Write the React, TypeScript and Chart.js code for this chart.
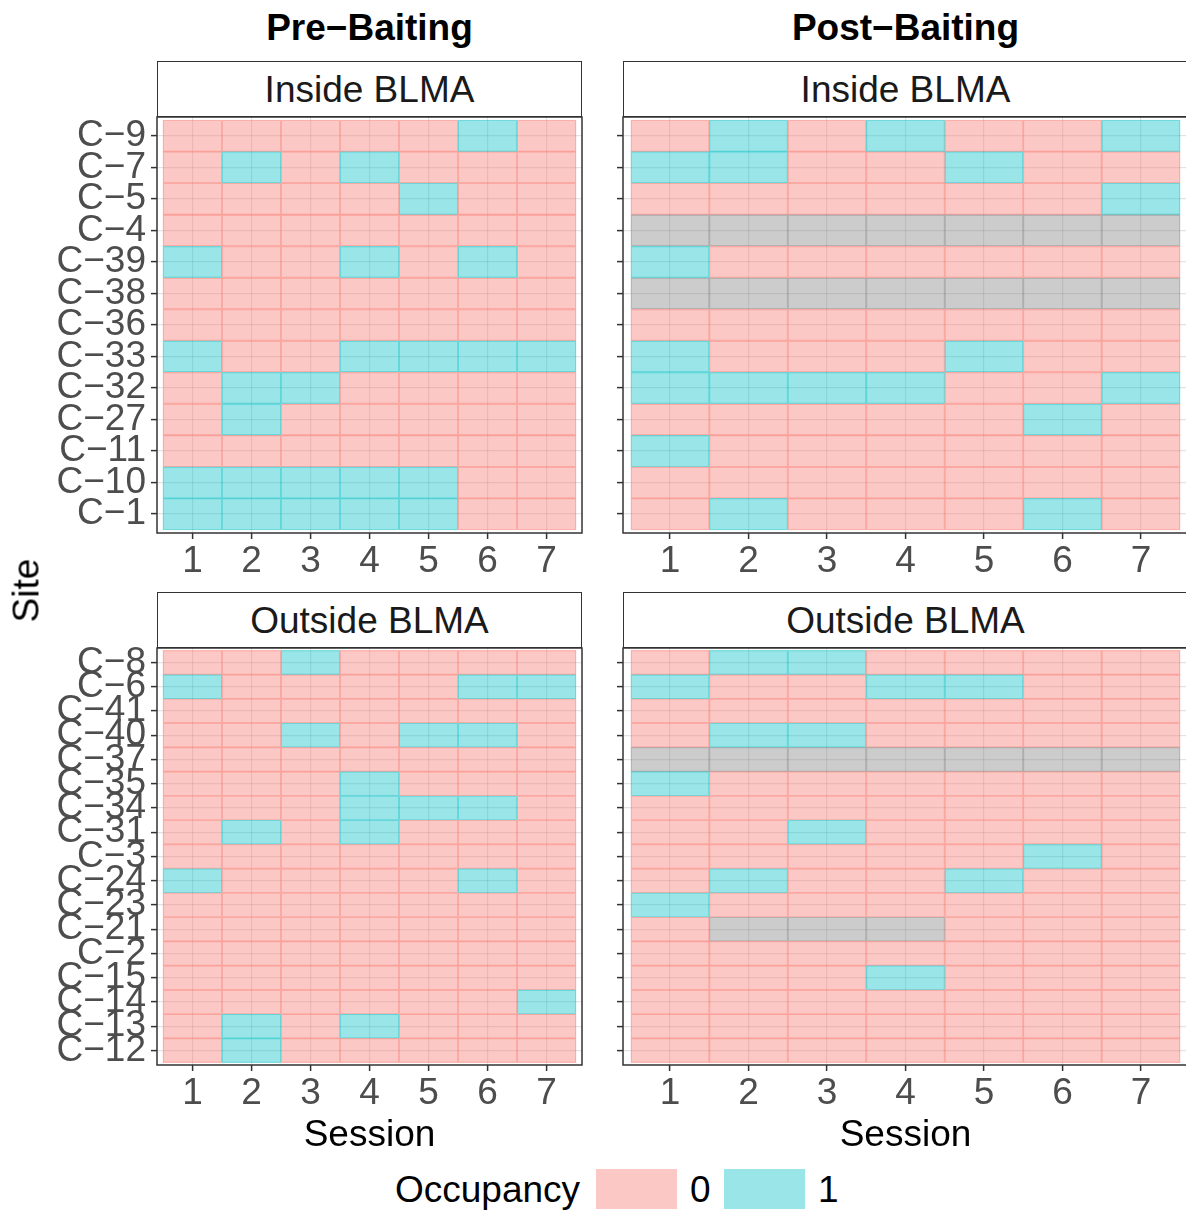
import React, { useEffect, useRef } from "react";
import { Chart, registerables } from "chart.js";

Chart.register(...registerables);

const N = null;

const SESSIONS = [1, 2, 3, 4, 5, 6, 7];
const PHASES = ["Pre−Baiting", "Post−Baiting"];
const AREAS = ["Inside BLMA", "Outside BLMA"];

const INSIDE_SITES = ["C−9", "C−7", "C−5", "C−4", "C−39", "C−38", "C−36", "C−33", "C−32", "C−27", "C−11", "C−10", "C−1"];
const OUTSIDE_SITES = ["C−8", "C−6", "C−41", "C−40", "C−37", "C−35", "C−34", "C−31", "C−3", "C−24", "C−23", "C−21", "C−2", "C−15", "C−14", "C−13", "C−12"];

// occupancy per site (row) and session (column); null = not surveyed
const PRE_INSIDE = [
  [0, 0, 0, 0, 0, 1, 0],
  [0, 1, 0, 1, 0, 0, 0],
  [0, 0, 0, 0, 1, 0, 0],
  [0, 0, 0, 0, 0, 0, 0],
  [1, 0, 0, 1, 0, 1, 0],
  [0, 0, 0, 0, 0, 0, 0],
  [0, 0, 0, 0, 0, 0, 0],
  [1, 0, 0, 1, 1, 1, 1],
  [0, 1, 1, 0, 0, 0, 0],
  [0, 1, 0, 0, 0, 0, 0],
  [0, 0, 0, 0, 0, 0, 0],
  [1, 1, 1, 1, 1, 0, 0],
  [1, 1, 1, 1, 1, 0, 0],
];

const POST_INSIDE = [
  [0, 1, 0, 1, 0, 0, 1],
  [1, 1, 0, 0, 1, 0, 0],
  [0, 0, 0, 0, 0, 0, 1],
  [N, N, N, N, N, N, N],
  [1, 0, 0, 0, 0, 0, 0],
  [N, N, N, N, N, N, N],
  [0, 0, 0, 0, 0, 0, 0],
  [1, 0, 0, 0, 1, 0, 0],
  [1, 1, 1, 1, 0, 0, 1],
  [0, 0, 0, 0, 0, 1, 0],
  [1, 0, 0, 0, 0, 0, 0],
  [0, 0, 0, 0, 0, 0, 0],
  [0, 1, 0, 0, 0, 1, 0],
];

const PRE_OUTSIDE = [
  [0, 0, 1, 0, 0, 0, 0],
  [1, 0, 0, 0, 0, 1, 1],
  [0, 0, 0, 0, 0, 0, 0],
  [0, 0, 1, 0, 1, 1, 0],
  [0, 0, 0, 0, 0, 0, 0],
  [0, 0, 0, 1, 0, 0, 0],
  [0, 0, 0, 1, 1, 1, 0],
  [0, 1, 0, 1, 0, 0, 0],
  [0, 0, 0, 0, 0, 0, 0],
  [1, 0, 0, 0, 0, 1, 0],
  [0, 0, 0, 0, 0, 0, 0],
  [0, 0, 0, 0, 0, 0, 0],
  [0, 0, 0, 0, 0, 0, 0],
  [0, 0, 0, 0, 0, 0, 0],
  [0, 0, 0, 0, 0, 0, 1],
  [0, 1, 0, 1, 0, 0, 0],
  [0, 1, 0, 0, 0, 0, 0],
];

const POST_OUTSIDE = [
  [0, 1, 1, 0, 0, 0, 0],
  [1, 0, 0, 1, 1, 0, 0],
  [0, 0, 0, 0, 0, 0, 0],
  [0, 1, 1, 0, 0, 0, 0],
  [N, N, N, N, N, N, N],
  [1, 0, 0, 0, 0, 0, 0],
  [0, 0, 0, 0, 0, 0, 0],
  [0, 0, 1, 0, 0, 0, 0],
  [0, 0, 0, 0, 0, 1, 0],
  [0, 1, 0, 0, 1, 0, 0],
  [1, 0, 0, 0, 0, 0, 0],
  [0, N, N, N, 0, 0, 0],
  [0, 0, 0, 0, 0, 0, 0],
  [0, 0, 0, 1, 0, 0, 0],
  [0, 0, 0, 0, 0, 0, 0],
  [0, 0, 0, 0, 0, 0, 0],
  [0, 0, 0, 0, 0, 0, 0],
];

const LEGEND_LEVELS = ["0", "1"];

const FONT = '"Liberation Sans", Arial, Helvetica, sans-serif';
const ZERO_FILL = "rgba(248,118,109,0.4)";
const ONE_FILL = "rgba(0,191,196,0.4)";
const NA_FILL = "rgba(127,127,127,0.4)";
const ZERO_EDGE = "rgba(248,118,109,0.47)";
const ONE_EDGE = "rgba(0,191,196,0.45)";
const NA_EDGE = "rgba(127,127,127,0.45)";
const FS = 37;

const panelBorder = {
  id: "panelBorder",
  afterDatasetsDraw(chart: any) {
    const { ctx, chartArea: a } = chart;
    ctx.save();
    ctx.strokeStyle = "#333333";
    ctx.lineWidth = 1.5;
    ctx.strokeRect(a.left, a.top, a.right - a.left, a.bottom - a.top);
    ctx.restore();
  },
};

function buildConfig(sites: string[], matrix: (number | null)[][], showLabels: boolean, yWidth: number) {
  const data: any[] = [];
  const colors: string[] = [];
  const borders: string[] = [];
  matrix.forEach((row, r) =>
    row.forEach((v, c) => {
      const s = SESSIONS[c];
      data.push({ y: r, x: [s - 0.5, s + 0.5] });
      colors.push(v === null ? NA_FILL : v === 1 ? ONE_FILL : ZERO_FILL);
      borders.push(v === null ? NA_EDGE : v === 1 ? ONE_EDGE : ZERO_EDGE);
    })
  );
  const gridOpts = {
    color: "rgba(0,0,0,0.11)",
    lineWidth: 1.2,
    drawTicks: true,
    tickLength: 6,
    tickColor: "#333333",
    tickWidth: 1.5,
    offset: false,
  };
  return {
    type: "bar",
    data: {
      datasets: [
        {
          data,
          backgroundColor: colors,
          borderColor: borders,
          borderWidth: 0.6,
          borderSkipped: false,
          grouped: false,
          barPercentage: 1,
          categoryPercentage: 1,
        },
      ],
    },
    options: {
      indexAxis: "y",
      animation: false,
      responsive: false,
      maintainAspectRatio: false,
      events: [],
      layout: { padding: { top: 30, right: 8, left: 0, bottom: 0 } },
      plugins: { legend: { display: false }, tooltip: { enabled: false } },
      scales: {
        x: {
          type: "linear",
          min: 0.4,
          max: 7.6,
          offset: false,
          afterBuildTicks: (axis: any) => {
            axis.ticks = SESSIONS.map((v) => ({ value: v }));
          },
          afterFit: (axis: any) => {
            axis.height = 60;
          },
          grid: gridOpts,
          border: { display: false },
          ticks: {
            autoSkip: false,
            maxRotation: 0,
            padding: 1,
            color: "#4D4D4D",
            font: { family: FONT, size: FS },
            callback: (v: any) => String(v),
          },
        },
        y: {
          type: "linear",
          reverse: true,
          offset: false,
          min: -0.6,
          max: sites.length - 0.4,
          afterBuildTicks: (axis: any) => {
            axis.ticks = sites.map((_, i) => ({ value: i }));
          },
          afterFit: (axis: any) => {
            axis.width = yWidth;
          },
          grid: gridOpts,
          border: { display: false },
          ticks: {
            display: showLabels,
            autoSkip: false,
            padding: 5,
            color: "#4D4D4D",
            font: { family: FONT, size: FS },
            callback: (v: any) => sites[Math.round(v)],
          },
        },
      },
    },
    plugins: [panelBorder],
  };
}

const PANELS = [
  { sites: INSIDE_SITES, matrix: PRE_INSIDE, left: 0, top: 87, width: 590, height: 506, labels: true, yWidth: 157 },
  { sites: INSIDE_SITES, matrix: POST_INSIDE, left: 590, top: 87, width: 606, height: 506, labels: false, yWidth: 33 },
  { sites: OUTSIDE_SITES, matrix: PRE_OUTSIDE, left: 0, top: 618, width: 590, height: 507, labels: true, yWidth: 157 },
  { sites: OUTSIDE_SITES, matrix: POST_OUTSIDE, left: 590, top: 618, width: 606, height: 507, labels: false, yWidth: 33 },
];

const COLS = [
  { left: 157, width: 425 },
  { left: 623, width: 565 },
];
const STRIP_TOPS = [61, 592];

export default function App() {
  const refs = [useRef<HTMLCanvasElement>(null), useRef<HTMLCanvasElement>(null), useRef<HTMLCanvasElement>(null), useRef<HTMLCanvasElement>(null)];

  useEffect(() => {
    const charts = PANELS.map((p, i) => {
      const cv = refs[i].current as HTMLCanvasElement;
      return new Chart(cv, buildConfig(p.sites, p.matrix, p.labels, p.yWidth) as any);
    });
    return () => charts.forEach((c) => c.destroy());
  }, []);

  const text = (extra: any): any => ({
    position: "absolute",
    fontFamily: FONT,
    fontSize: FS,
    lineHeight: `${FS}px`,
    whiteSpace: "nowrap",
    ...extra,
  });
  const base = (b: number) => b - 0.8465 * FS;

  return (
    <div style={{ position: "absolute", left: 0, top: 0, width: 1186, height: 1213, overflow: "hidden", background: "#ffffff" }}>
      {COLS.map((c, i) => (
        <div key={"t" + i} style={text({ left: c.left, width: c.width, top: base(40), textAlign: "center", fontWeight: "bold", color: "#000" })}>
          {PHASES[i]}
        </div>
      ))}
      {STRIP_TOPS.map((t, r) =>
        COLS.map((c, i) => (
          <div
            key={"s" + r + i}
            style={{
              position: "absolute",
              left: c.left,
              top: t,
              width: c.width,
              height: 56,
              boxSizing: "border-box",
              border: "1.5px solid #333333",
              background: "#fff",
              display: "flex",
              alignItems: "center",
              justifyContent: "center",
              fontFamily: FONT,
              fontSize: FS,
              lineHeight: `${FS}px`,
              color: "#1A1A1A",
              whiteSpace: "nowrap",
            }}
          >
            {AREAS[r]}
          </div>
        ))
      )}
      {PANELS.map((p, i) => (
        <canvas
          key={"c" + i}
          ref={refs[i]}
          width={p.width}
          height={p.height}
          style={{ position: "absolute", left: p.left, top: p.top, width: p.width, height: p.height, display: "block" }}
        />
      ))}
      {COLS.map((c, i) => (
        <div key={"x" + i} style={text({ left: c.left, width: c.width, top: base(1146), textAlign: "center", color: "#000" })}>
          Session
        </div>
      ))}
      <div style={text({ left: -24.5, top: 590 - FS / 2, width: 100, textAlign: "center", color: "#000", transform: "rotate(-90deg)" })}>Site</div>
      <div style={text({ left: 395, top: base(1202), color: "#000" })}>Occupancy</div>
      <div style={{ position: "absolute", left: 596, top: 1169, width: 81, height: 40, background: ZERO_FILL }} />
      <div style={text({ left: 690, top: base(1202), color: "#000" })}>{LEGEND_LEVELS[0]}</div>
      <div style={{ position: "absolute", left: 724, top: 1169, width: 81, height: 40, background: ONE_FILL }} />
      <div style={text({ left: 818, top: base(1202), color: "#000" })}>{LEGEND_LEVELS[1]}</div>
    </div>
  );
}
